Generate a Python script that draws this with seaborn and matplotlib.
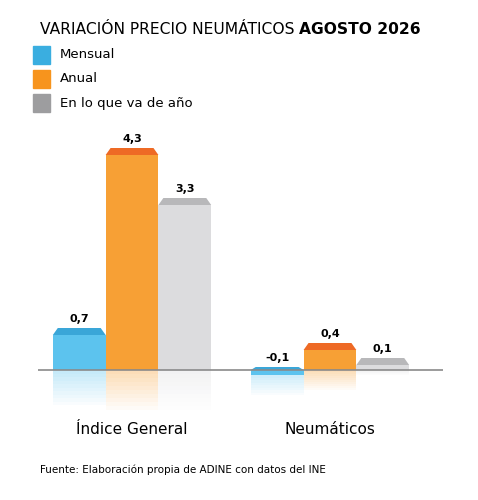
import matplotlib
matplotlib.use("Agg")
import matplotlib.pyplot as plt
import seaborn as sns
import pandas as pd
from matplotlib.patches import Polygon, Rectangle

categorias = ["Índice General", "Neumáticos"]
series = ["Mensual", "Anual", "En lo que va de año"]
mensual = [0.7, -0.1]
anual = [4.3, 0.4]
acumulado = [3.3, 0.1]

colores = ["#5cc3ee", "#f7a035", "#dcdcde"]
tapas = ["#3aa6d8", "#ee6a25", "#b8b8ba"]
leyenda = ["#3aaee0", "#f7941d", "#9d9d9f"]

df = pd.DataFrame({
    "cat": categorias * 3,
    "serie": [s for s in series for _ in categorias],
    "valor": mensual + anual + acumulado,
})

fig = plt.figure(figsize=(4.78, 5.0), dpi=100)
ax = fig.add_axes([38 / 478, 1 - 415 / 500, 405 / 478, 275 / 500])
sns.barplot(data=df, x="cat", y="valor", hue="serie", hue_order=series,
            palette=colores, width=0.8, ax=ax, legend=False, saturation=1)
ax.set_xlim(-0.475, 1.571)
ax.set_ylim(-0.9, 4.6)
ax.axis("off")

for i, cont in enumerate(ax.containers):
    for patch, v in zip(cont.patches, cont.datavalues):
        x0, w = patch.get_x(), patch.get_width()
        h = patch.get_height()
        # reflejo
        r = min(abs(v), 0.8) if v > 0 else 0.5
        for k in range(10):
            ax.add_patch(Rectangle((x0, -r * k / 10), w, -r / 10,
                                   color=colores[i], alpha=0.35 * (1 - k / 10), lw=0))
        # tapa biselada
        top = max(h, 0) if v > 0 else 0
        b = 0.14 if v > 0 else 0.06
        ax.add_patch(Polygon([(x0, top), (x0 + w, top), (x0 + w - 0.025, top + b),
                              (x0 + 0.025, top + b)], color=tapas[i], lw=0))
        ax.text(x0 + w / 2, top + b + 0.08, f"{v:.1f}".replace(".", ","),
                ha="center", va="bottom", fontsize=8, fontweight="bold")

ax.axhline(0, color="#8a8a8a", lw=1.2)

for j, c in enumerate(categorias):
    ax.text(j, -1.05, c, ha="center", va="top", fontsize=11)

# titulo en dos partes
t = fig.text(40 / 478, 0.94, "VARIACIÓN PRECIO NEUMÁTICOS ", ha="left", va="center", fontsize=11.2)
fig.canvas.draw()
bb = t.get_window_extent().transformed(fig.transFigure.inverted())
fig.text(bb.x1, 0.94, "AGOSTO 2026", ha="left", va="center", fontsize=11.2, fontweight="bold")

for k, (s, col) in enumerate(zip(series, leyenda)):
    y = 1 - (55 + 24 * k) / 500
    fig.patches.append(Rectangle((33 / 478, y - 0.018), 17 / 478, 0.036,
                                 transform=fig.transFigure, color=col, figure=fig))
    fig.text(60 / 478, y, s, va="center", fontsize=9.5)

fig.text(40 / 478, 1 - 470 / 500, "Fuente: Elaboración propia de ADINE con datos del INE",
         va="center", fontsize=7.5)

fig.savefig("out.png", dpi=100, facecolor="white")
